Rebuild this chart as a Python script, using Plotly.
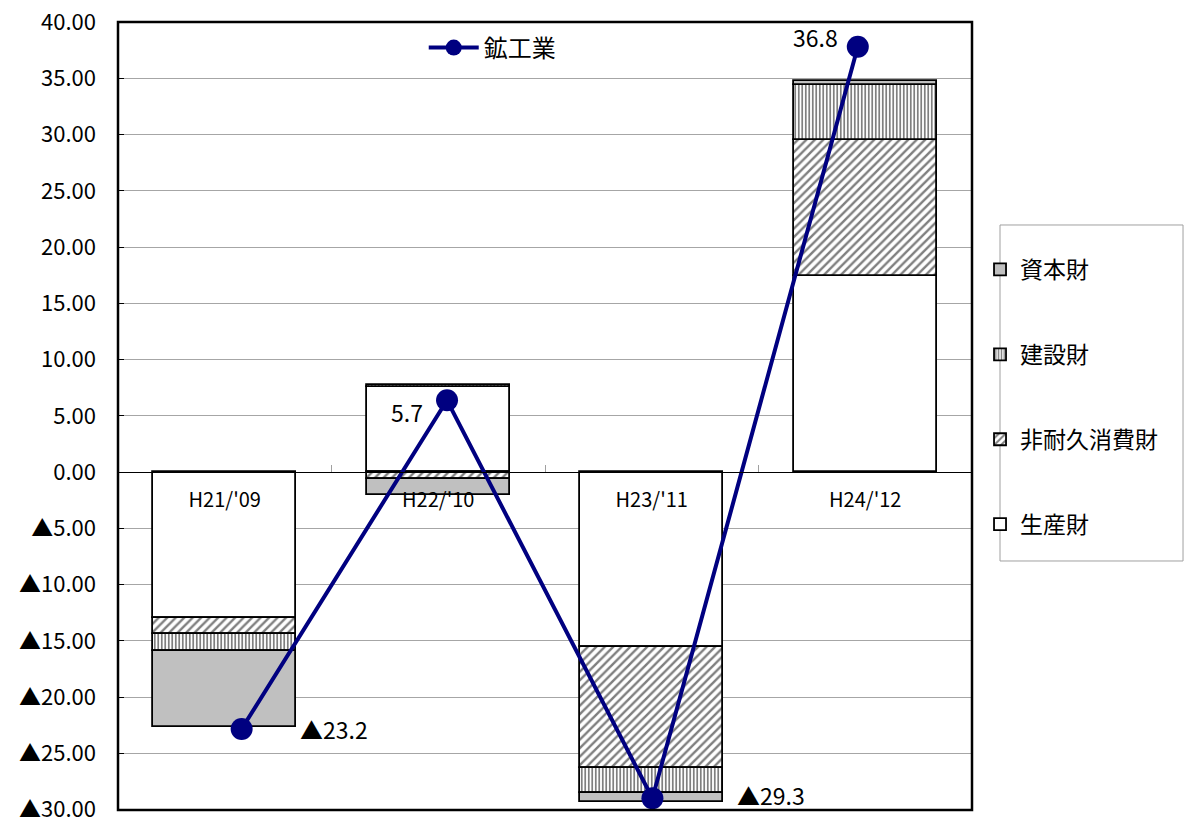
import plotly.graph_objects as go

# 鉱工業生産指数 前年比寄与度（財別）
categories = ["H21/'09", "H22/'10", "H23/'11", "H24/'12"]

production_goods = [-13.0, 7.6, -15.5, 17.4]     # 生産財
nondurable_goods = [-1.4, -0.6, -10.8, 12.1]     # 非耐久消費財
construction_goods = [-1.5, 0.15, -2.2, 4.9]     # 建設財
capital_goods = [-6.7, -1.4, -0.8, 0.4]          # 資本財

mining_total = [-23.2, 5.7, -29.3, 36.8]         # 鉱工業

y_tickvals = [40, 35, 30, 25, 20, 15, 10, 5, 0, -5, -10, -15, -20, -25, -30]
y_ticktext = ["40.00", "35.00", "30.00", "25.00", "20.00", "15.00", "10.00", "5.00", "0.00",
              "▲5.00", "▲10.00", "▲15.00", "▲20.00", "▲25.00", "▲30.00"]

FONT = "Noto Sans CJK JP, Noto Sans, sans-serif"
NAVY = "#000080"


def fmt(v):
    return ("▲" if v < 0 else "") + f"{abs(v):.1f}"


fig = go.Figure()

# legend shows 資本財 first, 生産財 last
bar_specs = [
    ("生産財", production_goods, dict(color="white"), 4),
    ("非耐久消費財", nondurable_goods,
     dict(color="white", pattern=dict(shape="/", fgcolor="black", bgcolor="white", size=6, solidity=0.4)), 3),
    ("建設財", construction_goods,
     dict(color="white", pattern=dict(shape="|", fgcolor="black", bgcolor="white", size=3.5, solidity=0.5)), 2),
    ("資本財", capital_goods, dict(color="#c0c0c0"), 1),
]
for name, vals, marker, rank in bar_specs:
    marker["line"] = dict(color="black", width=1.8)
    fig.add_trace(go.Bar(x=categories, y=vals, name=name, marker=marker, width=0.67,
                         legendgroup=name, legendrank=rank, legend="legend"))

fig.add_trace(go.Scatter(
    x=categories, y=mining_total, name="鉱工業", mode="lines+markers",
    line=dict(color=NAVY, width=4), marker=dict(color=NAVY, size=22),
    xaxis="x2", yaxis="y2", legend="legend2",
))

# data labels for the line
label_shift = [(92, 0), (-40, -12), (119, 3), (-42, 10)]
for c, v, (dx, dy) in zip(categories, mining_total, label_shift):
    fig.add_annotation(x=c, y=v, xref="x2", yref="y2", text=fmt(v), showarrow=False,
                       xshift=dx, yshift=dy, font=dict(size=23, color="black", family=FONT))

# plot frame
fig.add_shape(type="rect", xref="paper", yref="paper", x0=0, y0=0, x1=1, y1=1,
              line=dict(color="black", width=2.5), layer="above")
# legend box
fig.add_shape(type="rect", xref="paper", yref="paper", x0=1.0328, y0=0.316, x1=1.2471, y1=0.7424,
              line=dict(color="#a0a0a0", width=1))

fig.update_layout(
    width=1184, height=822,
    margin=dict(l=118, r=212, t=22, b=12, autoexpand=False),
    paper_bgcolor="white", plot_bgcolor="white",
    font=dict(family=FONT, size=20, color="black"),
    barmode="relative", bargap=0,
    showlegend=True,
    xaxis=dict(
        type="category", anchor="free", position=30 / 70, automargin=False,
        showline=True, linecolor="black", linewidth=1,
        ticks="inside", tickson="boundaries", ticklen=7, tickcolor="#a0a0a0",
        ticklabelstandoff=10, tickfont=dict(size=20),
        showgrid=False, zeroline=False,
    ),
    yaxis=dict(
        range=[-30.02, 40], tickvals=y_tickvals, ticktext=y_ticktext, automargin=False,
        ticks="inside", ticklen=6, tickcolor="black", ticklabeloverflow="allow",
        showgrid=True, gridcolor="#a6a6a6", gridwidth=1, zeroline=False,
        tickfont=dict(size=22), ticklabelstandoff=21,
    ),
    xaxis2=dict(type="category", overlaying="x", range=[-0.602, 3.556], visible=False),
    yaxis2=dict(overlaying="y", range=[-30.33, 38.97], visible=False),
    legend=dict(
        x=1.0094, y=0.7132, xanchor="left", yanchor="top",
        traceorder="grouped", tracegroupgap=52,
        borderwidth=0, bgcolor="rgba(0,0,0,0)",
        font=dict(size=23), itemwidth=30,
    ),
    legend2=dict(
        x=0.358, y=0.967, xanchor="left", yanchor="middle",
        bgcolor="rgba(0,0,0,0)", font=dict(size=24), itemwidth=50,
    ),
)

# drop the default 8px body margin so the figure fills the window exactly
fig.write_html("out.html", config={"displayModeBar": False},
               post_script="document.body.style.margin = '0';")
